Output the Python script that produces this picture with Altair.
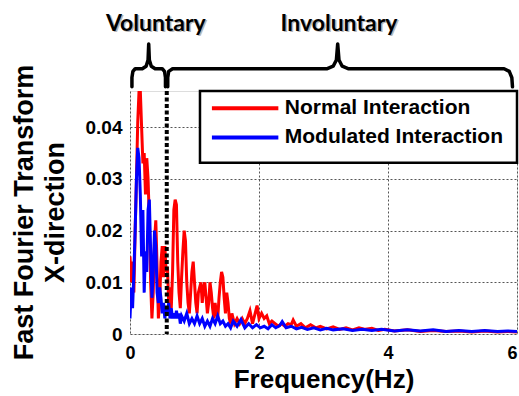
import altair as alt
import pandas as pd

# ---- data ----
normal_f = [0.00,0.02,0.04,0.06,0.08,0.10,0.12,0.14,0.16,0.18,0.20,0.22,0.24,0.26,0.28,0.30,0.32,0.34,0.36,0.38,
            0.40,0.42,0.44,0.46,0.48,0.50,0.52,0.54,0.56,0.58,0.60,0.62,0.64,0.66,0.68,0.70,0.72,0.74,0.76,0.78,
            0.80,0.82,0.84,0.86,0.88,0.90,0.92,0.94,0.96,0.98,1.00,1.02,1.04,1.06,1.08,1.10,1.12,1.14,1.16,1.18,
            1.20,1.22,1.24,1.26,1.28,1.30,1.32,1.34,1.36,1.38,1.40,1.42,1.44,1.46,1.48,1.50,1.52,1.54,1.56,1.58,
            1.60,1.62,1.66,1.70,1.74,1.78,1.82,1.86,1.90,1.94,1.97,2.00,2.04,2.08,2.12,2.16,2.20,2.25,2.30,2.35,
            2.40,2.45,2.50,2.53,2.58,2.65,2.72,2.80,2.88,2.95,3.05,3.15,3.25,3.35,3.45,3.55,3.65,3.75,3.85,3.95,
            4.10,4.30,4.50,4.70,4.90,5.10,5.30,5.50,5.70,5.85,6.00]
normal_v = [0.015,0.010,0.014,0.008,0.020,0.030,0.041,0.047,0.047,0.040,0.033,0.035,0.027,0.034,0.030,0.022,0.010,0.003,0.008,0.018,
            0.022,0.013,0.003,0.006,0.014,0.017,0.011,0.017,0.012,0.013,0.006,0.009,0.005,0.012,0.024,0.026,0.025,0.014,0.008,0.005,
            0.011,0.016,0.020,0.018,0.010,0.006,0.004,0.008,0.012,0.014,0.010,0.006,0.004,0.008,0.009,0.010,0.006,0.009,0.010,0.007,
            0.004,0.006,0.010,0.008,0.005,0.003,0.006,0.004,0.003,0.007,0.010,0.012,0.011,0.007,0.004,0.008,0.006,0.003,0.002,0.004,
            0.003,0.002,0.003,0.002,0.003,0.002,0.003,0.0045,0.002,0.004,0.0055,0.003,0.004,0.003,0.0035,0.002,0.0025,0.002,0.0015,0.002,
            0.0015,0.002,0.0018,0.0027,0.0015,0.002,0.0012,0.0018,0.0012,0.0015,0.001,0.0014,0.0009,0.0012,0.0008,0.0012,0.0009,0.0011,0.0007,0.0009,
            0.0006,0.0008,0.0005,0.0007,0.0005,0.0006,0.0004,0.0006,0.0004,0.0005,0.0004]

mod_f = [0.00,0.02,0.04,0.06,0.08,0.10,0.12,0.14,0.16,0.18,0.20,0.22,0.24,0.26,0.28,0.30,0.32,0.34,0.36,0.38,
         0.40,0.42,0.44,0.46,0.48,0.50,0.52,0.54,0.56,0.58,0.60,0.62,0.64,0.66,0.68,0.70,0.72,0.74,0.76,0.78,
         0.80,0.84,0.88,0.92,0.96,1.00,1.04,1.08,1.12,1.16,1.20,1.24,1.28,1.32,1.36,1.40,1.44,1.48,1.52,1.56,
         1.60,1.66,1.72,1.78,1.84,1.90,1.96,2.02,2.08,2.14,2.20,2.26,2.32,2.36,2.42,2.50,2.58,2.66,2.75,2.85,
         2.95,3.05,3.15,3.30,3.45,3.60,3.75,3.90,4.10,4.30,4.50,4.70,4.90,5.10,5.30,5.50,5.70,5.85,6.00]
mod_v = [0.003,0.009,0.005,0.012,0.020,0.030,0.036,0.034,0.027,0.015,0.024,0.008,0.016,0.012,0.024,0.026,0.016,0.007,0.012,0.020,
         0.017,0.008,0.006,0.009,0.007,0.004,0.006,0.003,0.005,0.004,0.006,0.003,0.005,0.003,0.004,0.003,0.0045,0.003,0.004,0.002,
         0.0035,0.0025,0.004,0.002,0.003,0.002,0.0035,0.002,0.003,0.0015,0.0025,0.0015,0.003,0.002,0.0035,0.002,0.0025,0.0015,0.002,0.0012,
         0.0025,0.0015,0.0028,0.0012,0.002,0.0012,0.0018,0.0012,0.0015,0.001,0.0018,0.0012,0.0016,0.0024,0.0012,0.0015,0.001,0.0013,0.0009,0.0012,
         0.0008,0.0011,0.0008,0.001,0.0007,0.0009,0.0007,0.0009,0.0006,0.0008,0.0006,0.0008,0.0005,0.0007,0.0005,0.0007,0.0005,0.0006,0.0005]

series_names = ["Normal Interaction", "Modulated Interaction"]
series_colors = ["#ff0000", "#0000ff"]

boundary_hz = 0.57
x_ticks = [0, 2, 4, 6]
y_ticks = [0, 0.01, 0.02, 0.03, 0.04]

# brace annotation shapes (Hz, amplitude units)
vol_x = [0.03,0.03,0.045,0.08,0.19,0.25,0.28,0.29,0.30,0.33,0.39,0.50,0.535,0.55,0.55]
vol_y = [0.0478,0.0496,0.0508,0.0513,0.0513,0.0518,0.0530,0.0561,0.0530,0.0518,0.0513,0.0513,0.0508,0.0496,0.0478]
inv_x = [0.585,0.585,0.60,0.66,3.05,3.15,3.20,3.22,3.24,3.29,3.39,5.80,5.88,5.92,5.93]
inv_y = [0.0478,0.0496,0.0508,0.0513,0.0513,0.0518,0.0530,0.0561,0.0530,0.0518,0.0513,0.0513,0.0508,0.0496,0.0478]
labels_txt = ["Voluntary", "Involuntary"]
labels_x = [0.40, 3.24]
labels_y = [0.0587, 0.0587]

# legend placement (Hz, amplitude units)
leg_box = (1.085, 6.0, 0.0331, 0.0470)
leg_line_x = (1.27, 2.30)
leg_text_x = 2.40
leg_rows_y = [0.04366, 0.03801]

df = pd.concat([
    pd.DataFrame({"f": normal_f, "v": normal_v, "s": series_names[0]}),
    pd.DataFrame({"f": mod_f, "v": mod_v, "s": series_names[1]}),
], ignore_index=True)
df["i"] = range(len(df))

brace_df = pd.concat([
    pd.DataFrame({"f": vol_x, "v": vol_y, "b": "vol", "k": range(len(vol_x))}),
    pd.DataFrame({"f": inv_x, "v": inv_y, "b": "inv", "k": range(len(inv_x))}),
], ignore_index=True)
lab_df = pd.DataFrame({"t": labels_txt, "f": labels_x, "v": labels_y})
vline_df = pd.DataFrame({"f": [boundary_hz]})
box_df = pd.DataFrame({"x0": [leg_box[0]], "x1": [leg_box[1]], "y0": [leg_box[2]], "y1": [leg_box[3]]})
leg_df = pd.DataFrame({"s": series_names, "x0": leg_line_x[0], "x1": leg_line_x[1],
                       "tx": leg_text_x, "y": leg_rows_y})

FONT = "Liberation Sans"

xs = alt.Scale(domain=[0, 6], nice=False)
ys = alt.Scale(domain=[0, 0.047], nice=False)
cscale = alt.Scale(domain=series_names, range=series_colors)
color = alt.Color("s:N", scale=cscale, legend=None)

x_enc = alt.X("f:Q", scale=xs,
              axis=alt.Axis(values=x_ticks, format="~g", title="Frequency(Hz)", grid=True, gridDash=[2, 2],
                            gridColor="#555", gridWidth=1, ticks=False, domain=False,
                            labelFont=FONT, labelFontSize=18, labelFontWeight="bold",
                            labelColor="black", labelPadding=10, labelFlush=False,
                            labelAlign={"condition": {"test": "datum.value >= 6", "value": "right"},
                                        "value": "center"},
                            titleFont=FONT, titleFontSize=26, titleFontWeight="bold",
                            titleColor="black", titleBaseline="alphabetic", titleY=53))
y_enc = alt.Y("v:Q", scale=ys,
              axis=alt.Axis(values=y_ticks, format="~g",
                            title=["Fast Fourier Transform", "X-direction"],
                            grid=True, gridDash=[2, 2], gridColor="#555", gridWidth=1,
                            ticks=False, domain=False,
                            labelFont=FONT, labelFontSize=19, labelFontWeight="bold",
                            labelColor="black", labelPadding=8,
                            titleFont=FONT, titleFontSize=27, titleFontWeight="bold",
                            titleColor="black", titleLineHeight=31, titleAngle=270,
                            titleAlign="center", titleBaseline="alphabetic",
                            titleX=-98, titleY=121))

base = alt.Chart(df)
red = base.transform_filter(alt.datum.s == series_names[0]).mark_line(
    strokeWidth=3, clip=True).encode(x=x_enc, y=y_enc, color=color, order="i:Q")
blue = base.transform_filter(alt.datum.s == series_names[1]).mark_line(
    strokeWidth=3, clip=True).encode(x="f:Q", y="v:Q", color=color, order="i:Q")

vline = alt.Chart(vline_df).mark_rule(color="black", strokeWidth=4, strokeDash=[4, 2.5]).encode(x="f:Q")

braces = alt.Chart(brace_df).mark_line(color="black", strokeWidth=3.5, clip=False,
                                       strokeCap="round", strokeJoin="round").encode(
    x="f:Q", y="v:Q", detail="b:N", order="k:Q")

shadow = alt.Chart(lab_df).mark_text(font="Lato", fontSize=23, fontWeight="bold", color="#888",
                                     opacity=0.6, dx=1.5, dy=1.5, baseline="alphabetic",
                                     clip=False).encode(x="f:Q", y="v:Q", text="t:N")
labels = alt.Chart(lab_df).mark_text(font="Lato", fontSize=23, fontWeight="bold", color="black",
                                     baseline="alphabetic", clip=False).encode(
    x="f:Q", y="v:Q", text="t:N")

box = alt.Chart(box_df).mark_rect(fill="white", stroke="black", strokeWidth=2.5).encode(
    x="x0:Q", x2="x1:Q", y="y0:Q", y2="y1:Q")
leg_lines = alt.Chart(leg_df).mark_rule(strokeWidth=4).encode(
    x="x0:Q", x2="x1:Q", y="y:Q", color=color)
leg_text = alt.Chart(leg_df).mark_text(font=FONT, fontSize=21, fontWeight="bold", color="black",
                                       align="left", baseline="middle").encode(
    x="tx:Q", y="y:Q", text="s:N")

chart = alt.layer(red, blue, vline, braces, shadow, labels, box, leg_lines, leg_text).properties(
    width=387, height=243,
    autosize=alt.AutoSizeParams(type="none"),
    padding={"left": 130, "top": 91, "right": 2, "bottom": 62},
).configure_view(stroke="black", strokeWidth=3).configure(background="white")

chart.save("out.html", embed_options={"renderer": "svg", "actions": False})
